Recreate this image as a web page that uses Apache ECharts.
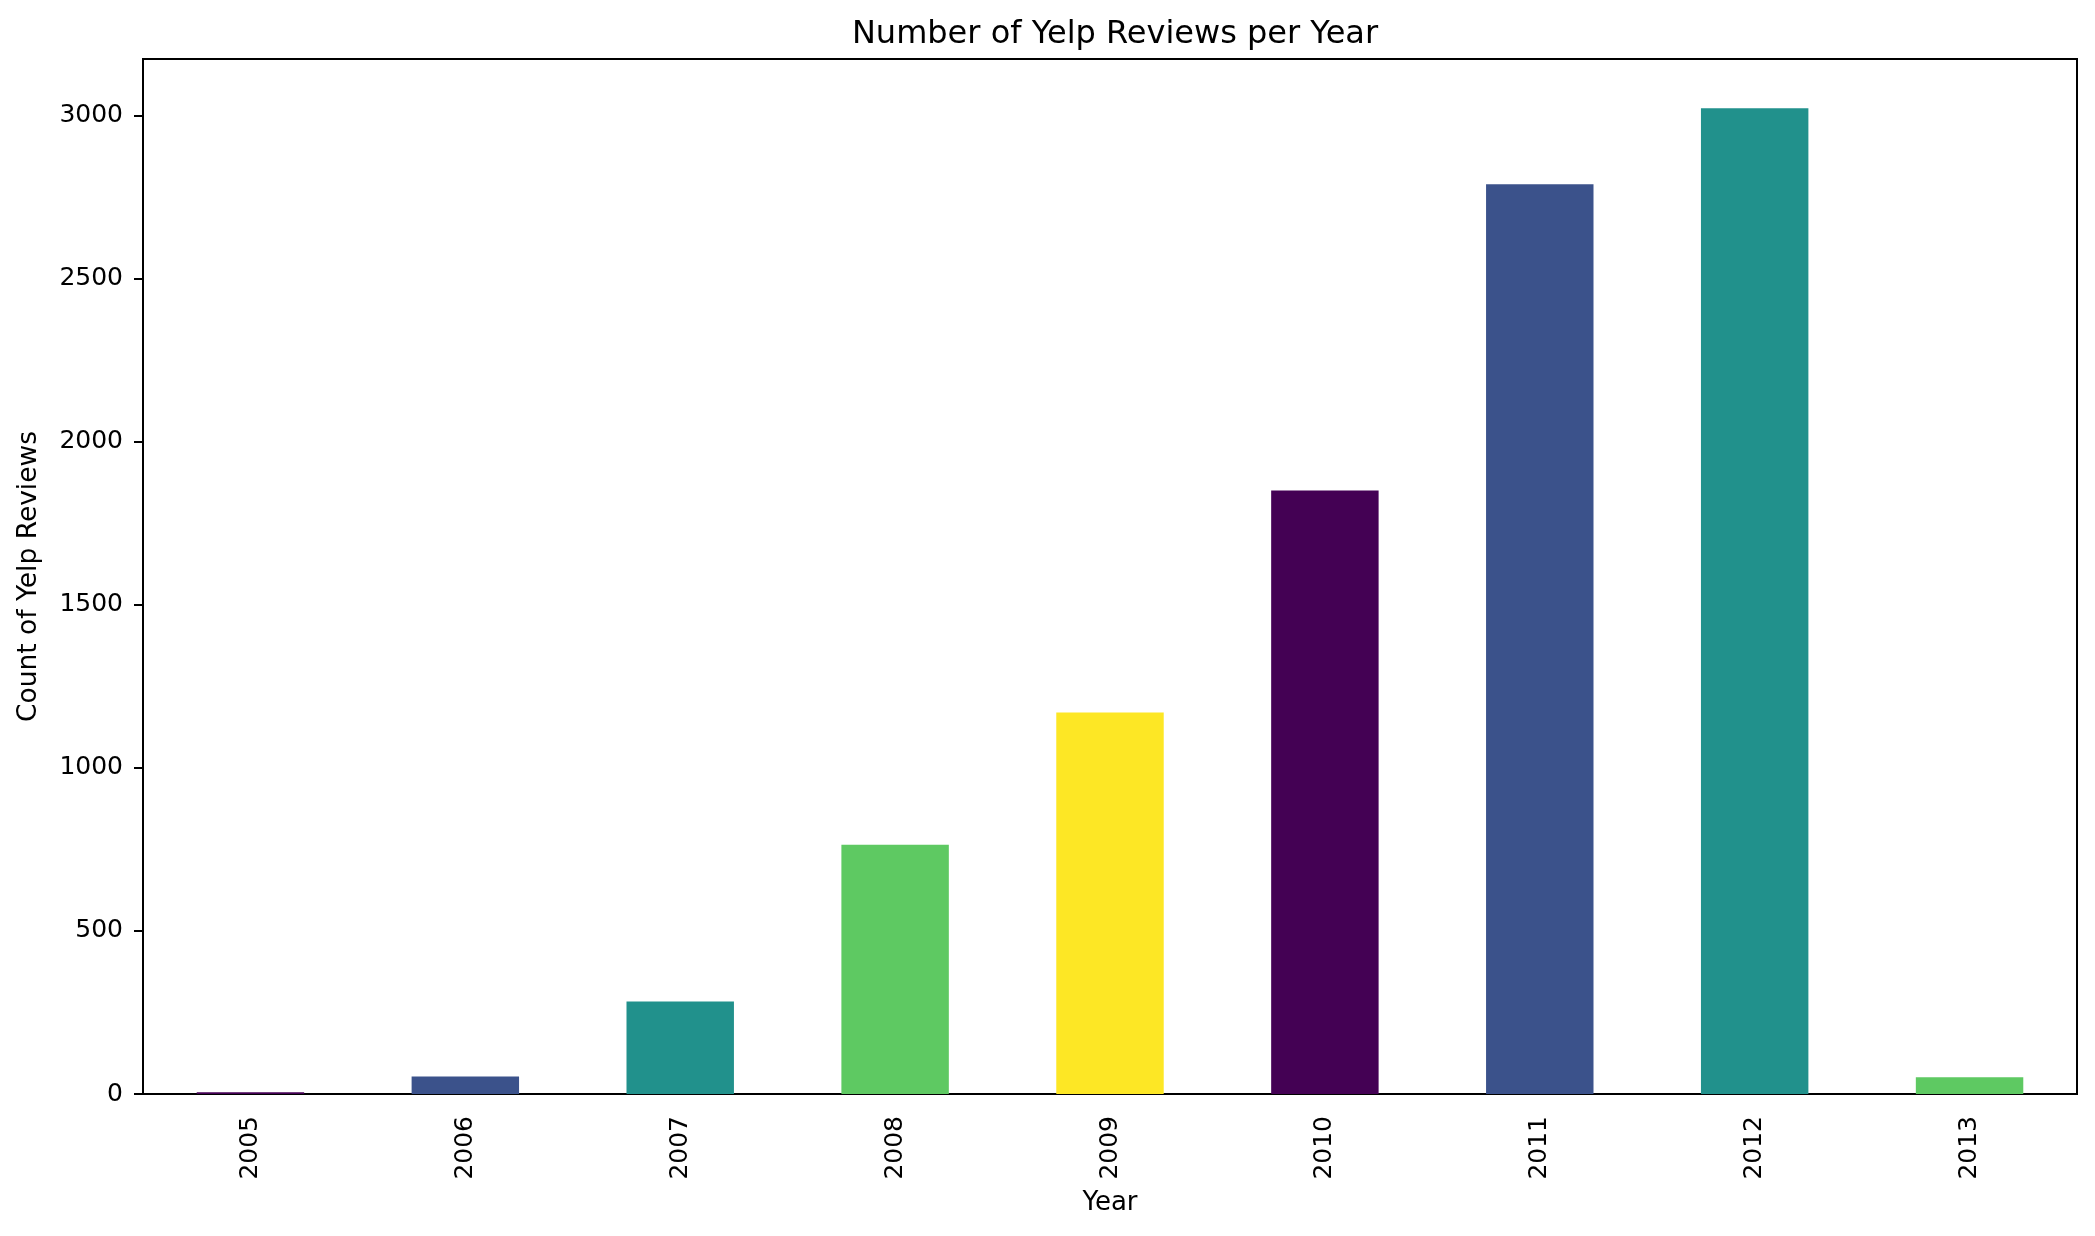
<!DOCTYPE html>
<html lang="en">
<head>
    <meta charset="utf-8">
    <title>Number of Yelp Reviews per Year</title>
    <script src="https://cdn.jsdelivr.net/npm/echarts@6/dist/echarts.min.js"></script>
    <style>
        html, body { margin: 0; padding: 0; background: #fff; }
        #main { width: 2095px; height: 1236px; }
    </style>
</head>
<body>
    <div id="main"></div>
    <script>
        // data
        var years = ['2005', '2006', '2007', '2008', '2009', '2010', '2011', '2012', '2013'];
        var reviewCounts = [5, 54, 284, 764, 1170, 1851, 2790, 3023, 51];
        // viridis, 5 steps, cycling as pandas does
        var barColors = ['#440154', '#3b528b', '#21918c', '#5ec962', '#fde725'];

        var font = 'DejaVu Sans';
        var myChart = echarts.init(document.getElementById('main'));

        var option = {
            backgroundColor: '#ffffff',
            animation: false,
            title: {
                text: 'Number of Yelp Reviews per Year',
                left: 1110,
                top: 14,
                textAlign: 'center',
                textStyle: { fontFamily: font, fontSize: 32, fontWeight: 'normal', color: '#000' }
            },
            grid: {
                left: 143, right: 18, top: 59, bottom: 142,
                show: true, borderColor: '#000', borderWidth: 2,
                containLabel: false
            },
            xAxis: {
                type: 'category',
                data: years,
                name: 'Year',
                nameLocation: 'middle',
                nameGap: 96,
                nameTextStyle: { fontFamily: font, fontSize: 26, color: '#000' },
                axisLine: { lineStyle: { color: '#000', width: 2 } },
                axisTick: { alignWithLabel: true, length: 9, lineStyle: { color: '#000', width: 2 } },
                axisLabel: { rotate: 90, margin: 22, fontFamily: font, fontSize: 25, color: '#000' },
                splitLine: { show: false }
            },
            yAxis: {
                type: 'value',
                min: 0,
                max: 3174,
                interval: 500,
                name: 'Count of Yelp Reviews',
                nameLocation: 'middle',
                nameGap: 100,
                nameTextStyle: { fontFamily: font, fontSize: 26.5, color: '#000' },
                axisLine: { show: true, lineStyle: { color: '#000', width: 2 } },
                axisTick: { show: true, length: 9, lineStyle: { color: '#000', width: 2 } },
                axisLabel: {
                    margin: 20, fontFamily: font, fontSize: 25, color: '#000',
                    showMaxLabel: false,
                    formatter: function (v) { return String(v); }
                },
                splitLine: { show: false }
            },
            series: [{
                type: 'bar',
                barWidth: '50%',
                data: reviewCounts.map(function (v, i) {
                    return { value: v, itemStyle: { color: barColors[i % barColors.length] } };
                })
            }]
        };

        myChart.setOption(option);
        window.onresize = function () {
            myChart.resize();
        };
    </script>
</body>
</html>
